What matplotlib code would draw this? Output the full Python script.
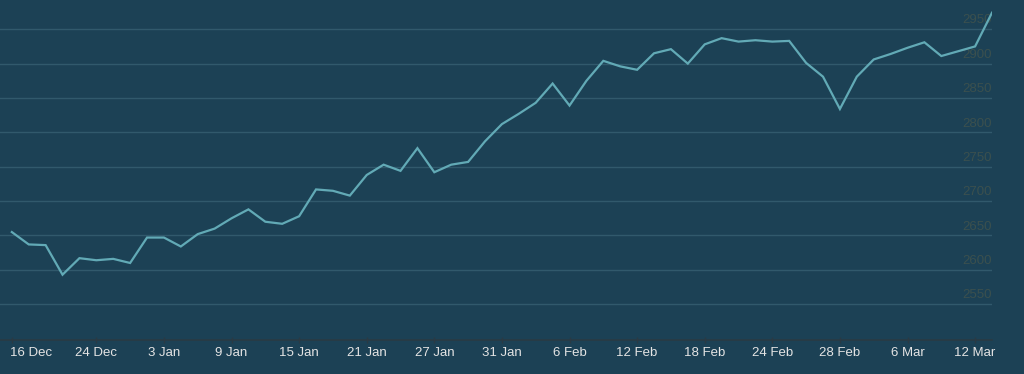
import matplotlib
matplotlib.use("Agg")
import matplotlib.pyplot as plt
import matplotlib.transforms as mtransforms

values = [2655, 2637, 2636, 2593, 2617, 2614, 2616, 2610, 2647, 2647,
          2634, 2652, 2660, 2675, 2688, 2670, 2667, 2678, 2717, 2715,
          2708, 2738, 2753, 2744, 2777, 2742, 2753, 2757, 2787, 2812,
          2827, 2843, 2871, 2839, 2875, 2904, 2896, 2891, 2915, 2921,
          2900, 2928, 2937, 2932, 2934, 2932, 2933, 2901, 2881, 2834,
          2881, 2906, 2914, 2923, 2931, 2911, 2918, 2925, 2974]
tick_labels = ["16 Dec", "24 Dec", "3 Jan", "9 Jan", "15 Jan", "21 Jan", "27 Jan",
               "31 Jan", "6 Feb", "12 Feb", "18 Feb", "24 Feb", "28 Feb", "6 Mar", "12 Mar"]
tick_index = [0, 5, 9, 13, 17, 21, 25, 29, 33, 37, 41, 45, 49, 53, 57]
y_ticks = [2550, 2600, 2650, 2700, 2750, 2800, 2850, 2900, 2950]

BG = "#1c4155"
GRID = "#31596c"
LINE = "#62aab6"
YLAB = "#3b504e"
XLAB = "#e4e4e4"
AXIS = "#2a3a44"

plt.rcParams['font.family'] = ['Liberation Sans', 'DejaVu Sans']

fig = plt.figure(figsize=(10.24, 3.74), dpi=100, facecolor=BG)
ax = fig.add_axes([0, 34 / 374, 992 / 1024, 340 / 374], facecolor=BG)

x = list(range(len(values)))
ax.plot(x, values, color=LINE, lw=1.6, solid_joinstyle='miter', clip_on=True, zorder=3)

ax.set_xlim(-0.7, len(values) - 1)
ax.set_ylim(2498, 2992.5)

for v in y_ticks:
    ax.axhline(v, color=GRID, lw=1, zorder=1)
    ax.text(len(values) - 1, v + 4, str(v), color=YLAB, fontsize=9.5,
            ha='right', va='bottom', zorder=2)

ax.set_yticks([])
ax.set_xticks(tick_index)
ax.set_xticklabels(tick_labels)
ax.tick_params(axis='x', colors=AXIS, length=4, width=1, direction='inout',
               labelcolor=XLAB, labelsize=9.5, pad=3)
for s in ['top', 'left', 'right']:
    ax.spines[s].set_visible(False)
ax.spines['bottom'].set_color(AXIS)
ax.spines['bottom'].set_linewidth(1.2)

labels = ax.get_xticklabels()
labels[0].set_ha('left')
labels[0].set_transform(labels[0].get_transform() +
                        mtransforms.ScaledTranslation(-2 / 100, 0, fig.dpi_scale_trans))

fig.savefig("out.png", dpi=100, facecolor=BG)
